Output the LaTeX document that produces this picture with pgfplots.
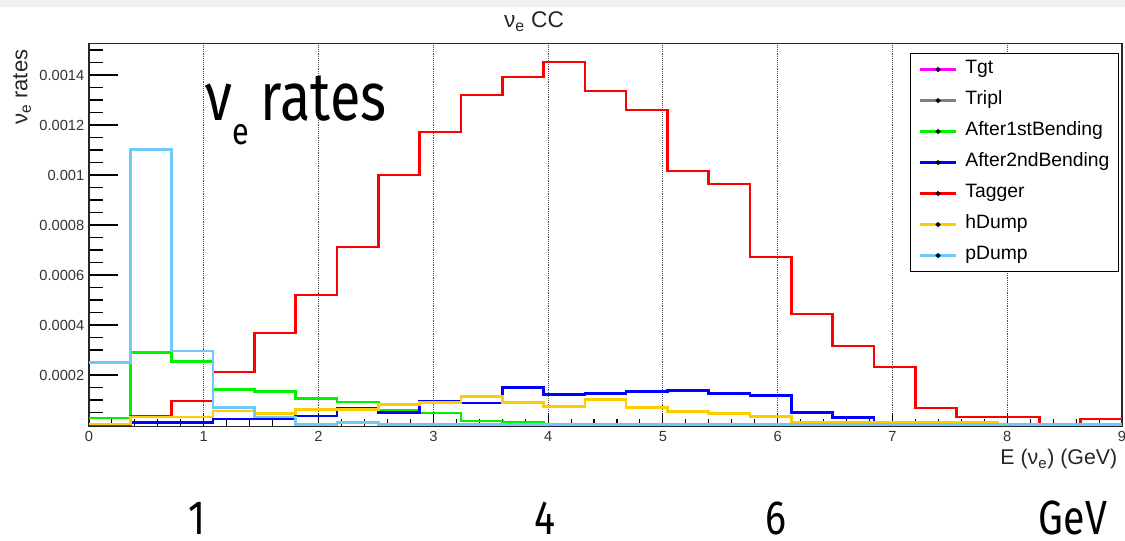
\documentclass[border=0pt]{standalone}
\usepackage{fontspec}
\setmainfont{Liberation Sans}
\newfontfamily\anno[FakeStretch=0.82]{Fira Sans}
\usepackage{pgfplots}
\usepackage{pgfplotstable}
\pgfplotsset{compat=1.18}

\definecolor{rtgt}{RGB}{255,0,255}
\definecolor{rtripl}{RGB}{128,128,128}
\definecolor{rgreen}{RGB}{0,240,0}
\definecolor{rblue}{RGB}{0,0,255}
\definecolor{rred}{RGB}{255,0,0}
\definecolor{ryellow}{RGB}{255,204,0}
\definecolor{rlblue}{RGB}{110,200,250}

% bin left edges (width 0.36 GeV), last row closes the last bin
\pgfplotstableread{
x     green    blue     red       yellow   pdump
0.00  2.8e-5   0        0         4e-6     2.49e-4
0.36  2.91e-4  9e-6     3.6e-5    3.2e-5   1.101e-3
0.72  2.53e-4  9e-6     9.6e-5    3.2e-5   2.96e-4
1.08  1.43e-4  2.4e-5   2.12e-4   5.6e-5   7.1e-5
1.44  1.33e-4  2.4e-5   3.68e-4   4.7e-5   3.2e-5
1.80  1.05e-4  3.6e-5   5.2e-4    6.3e-5   3e-6
2.16  9.2e-5   6.7e-5   7.12e-4   6.3e-5   9e-6
2.52  5.7e-5   4.9e-5   1.0e-3    8.3e-5   2e-6
2.88  4.8e-5   9.6e-5   1.172e-3  8.9e-5   2e-6
3.24  1.6e-5   8.8e-5   1.32e-3   1.13e-4  2e-6
3.60  1.1e-5   1.49e-4  1.392e-3  8.9e-5   2e-6
3.96  0        1.21e-4  1.452e-3  7.3e-5   2e-6
4.32  0        1.25e-4  1.336e-3  1.03e-4  2e-6
4.68  0        1.33e-4  1.26e-3   6.9e-5   2e-6
5.04  0        1.39e-4  1.016e-3  5.3e-5   2e-6
5.40  0        1.25e-4  9.64e-4   4.7e-5   2e-6
5.76  0        1.17e-4  6.72e-4   3.3e-5   2e-6
6.12  0        5.1e-5   4.44e-4   1.1e-5   2e-6
6.48  0        2.9e-5   3.16e-4   1.1e-5   2e-6
6.84  0        1.1e-5   2.32e-4   1.1e-5   2e-6
7.20  0        1.1e-5   6.8e-5    1.1e-5   2e-6
7.56  0        0        3.2e-5    1.1e-5   2e-6
7.92  0        0        3.2e-5    0        2e-6
8.28  0        0        0         0        2e-6
8.64  0        0        2.4e-5    0        2e-6
9.00  0        0        2.4e-5    0        2e-6
}\rates

\begin{document}
\begin{tikzpicture}[x=1pt,y=1pt]
\useasboundingbox (0,0) rectangle (843.75,405.75);
\fill[black!6] (0,400.5) rectangle (843.75,405.75);
\begin{axis}[
    at={(66.75pt,85.875pt)}, anchor=south west,
    scale only axis, width=774.75pt, height=287.25pt,
    xmin=0, xmax=9, ymin=-0.000006, ymax=0.001526,
    xtick={0,1,2,3,4,5,6,7,8,9},
    minor xtick={0,0.2,...,9},
    ytick={0.0002,0.0004,0.0006,0.0008,0.001,0.0012,0.0014},
    minor ytick={0,0.00005,...,0.0015},
    xtick pos=left, ytick pos=left,
    tick align=inside,
    major x tick style={/pgfplots/major tick length=9.75pt},
    minor x tick style={/pgfplots/minor tick length=5.25pt},
    major y tick style={/pgfplots/major tick length=21.75pt},
    minor y tick style={/pgfplots/minor tick length=10.5pt},
    every tick/.style={black, line width=0.8pt},
    axis line style={black!85, line width=0.8pt},
    xmajorgrids,
    major x grid style={densely dotted, black!70, line width=0.6pt},
    scaled y ticks=false,
    /pgf/number format/assume math mode=true,
    y tick label style={/pgf/number format/fixed, /pgf/number format/precision=4},
    tick label style={font=\fontsize{11}{13}\selectfont, black!80},
    const plot,
    every axis plot/.append style={line width=2pt},
    legend image code/.code={
        \draw[#1] (0pt,0pt) -- (27pt,0pt);
        \fill[black] (13.5pt,0pt) circle (0.6pt);
    },
    legend cell align=left,
    legend style={at={(1,1)}, anchor=north east, xshift=-2.5pt, yshift=-6.9pt,
        draw=black, line width=0.8pt,
        font=\fontsize{14.5}{16}\selectfont,
        inner xsep=6.5pt, inner ysep=5.5pt,
        row sep=9.75pt, column sep=6pt,
        nodes={inner sep=0pt, text height=10pt, text depth=3.5pt}},
]
\addlegendimage{rtgt, line width=2pt}
\addlegendentry{Tgt}
\addlegendimage{rtripl, line width=2pt}
\addlegendentry{Tripl}
\addplot[rgreen] table[x=x, y=green] {\rates};
\addlegendentry{After1stBending}
\addplot[rblue] table[x=x, y=blue] {\rates};
\addlegendentry{After2ndBending}
\addplot[rred] table[x=x, y=red] {\rates};
\addlegendentry{Tagger}
\addplot[ryellow] table[x=x, y=yellow] {\rates};
\addlegendentry{hDump}
\addplot[rlblue] table[x=x, y=pdump] {\rates};
\addlegendentry{pDump}
\end{axis}

% titles and axis labels
\node[anchor=base, font=\fontsize{17}{19}\selectfont, black!85] at (400.5,384.75)
    {ν\textsubscript{e} CC};
\node[anchor=east, rotate=90, font=\fontsize{16.5}{18}\selectfont, black!85] at (16.5,372)
    {ν\textsubscript{e} rates};
\node[anchor=base east, font=\fontsize{16}{18}\selectfont, black!85] at (841.5,57)
    {E (ν\textsubscript{e}) (GeV)};

% overlaid annotations
\node[anchor=base west, inner sep=0pt] at (153.75,315)
    {\anno\fontsize{51}{55}\selectfont ν\raisebox{-18pt}{\fontsize{28}{30}\selectfont e}\hspace{9pt}rates};
\node[anchor=base, inner sep=0pt, font=\anno\fontsize{36}{40}\selectfont] at (147.75,5) {1};
\node[anchor=base, inner sep=0pt, font=\anno\fontsize{36}{40}\selectfont] at (408.75,5) {4};
\node[anchor=base, inner sep=0pt, font=\anno\fontsize{36}{40}\selectfont] at (582,5) {6};
\node[anchor=base, inner sep=0pt, font=\anno\fontsize{36}{40}\selectfont] at (804.75,5) {GeV};
\end{tikzpicture}
\end{document}
